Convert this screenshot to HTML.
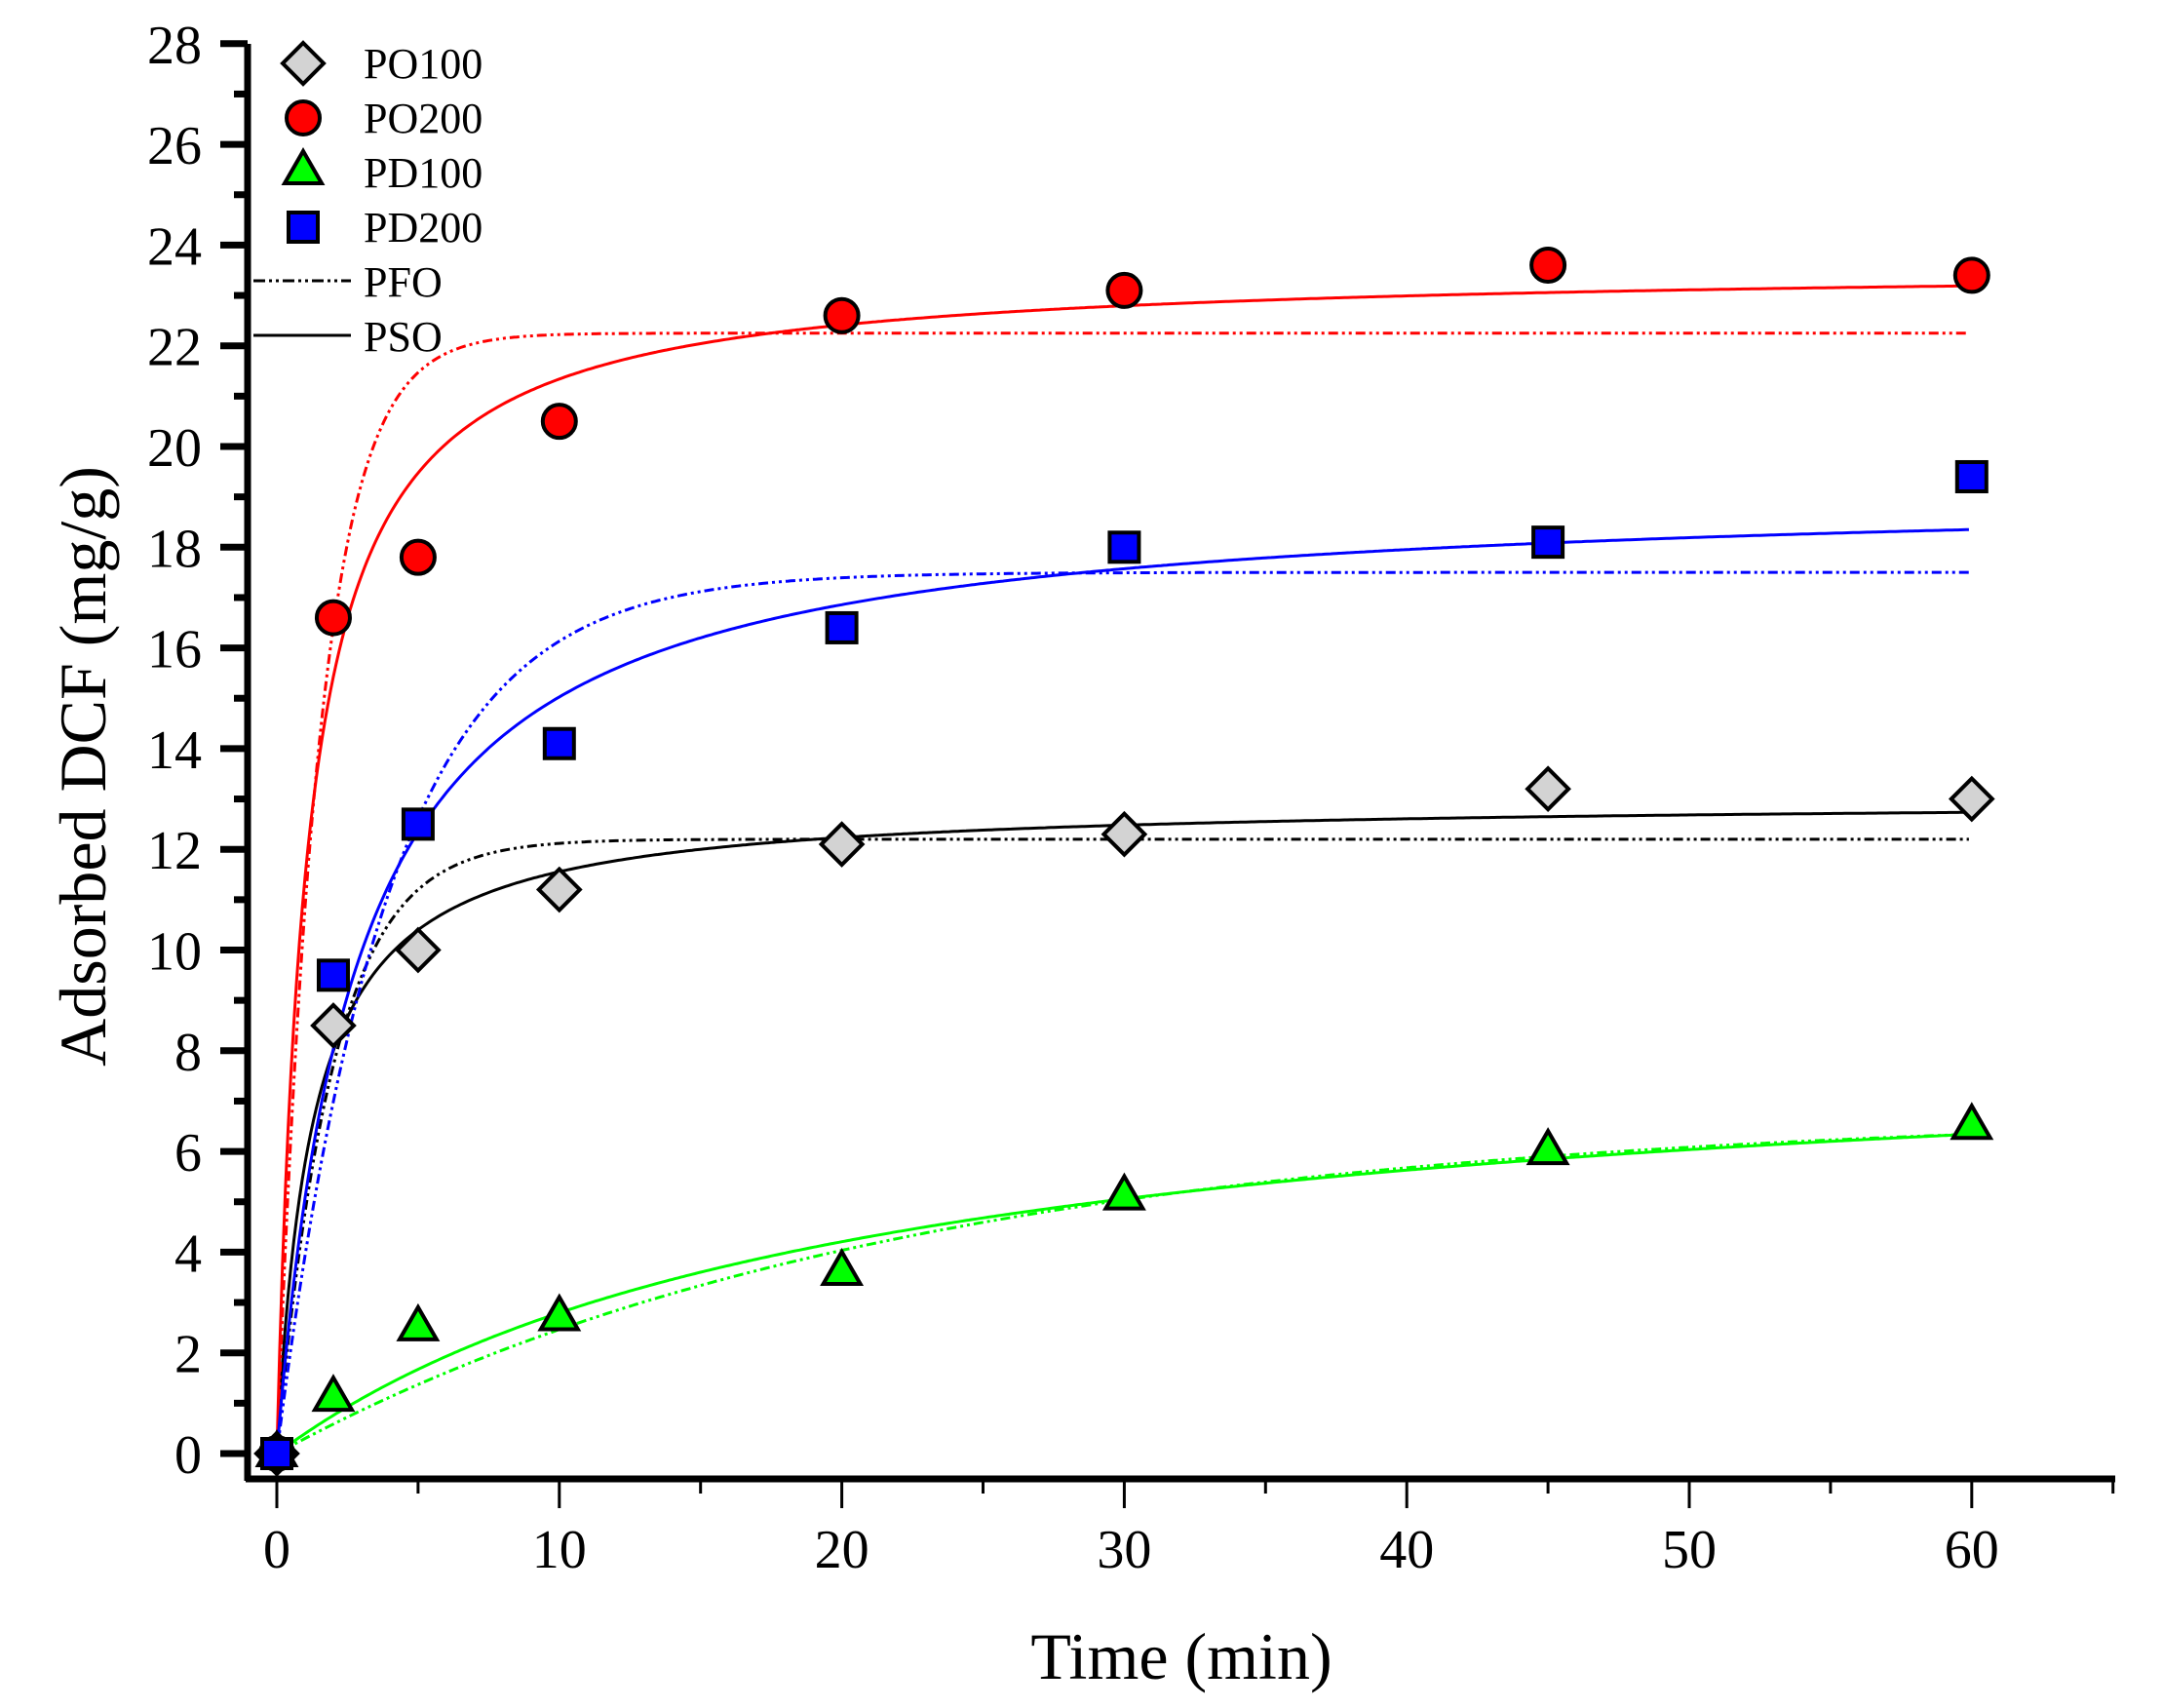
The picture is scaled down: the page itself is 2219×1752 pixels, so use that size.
<!DOCTYPE html>
<html><head><meta charset="utf-8"><style>
html,body{margin:0;padding:0;background:#fff}
svg{display:block}
text{font-family:"Liberation Serif",serif;fill:#000}
</style></head><body>
<svg id="s" width="2219" height="1752" viewBox="0 0 2219 1752" xmlns="http://www.w3.org/2000/svg">
<g id="axes" stroke="#000" fill="none"></g>
<g id="curves" fill="none" stroke-width="3"></g>
<g id="marks" stroke="#000" stroke-width="4"></g>
<g id="labels" font-size="56"></g>
<text x="1212" y="1722" font-size="68" text-anchor="middle">Time (min)</text>
<text transform="translate(108,786) rotate(-90)" font-size="68" text-anchor="middle">Adsorbed DCF (mg/g)</text>
<g font-size="44">
<polygon points="311,44 332,65 311,86 290,65" fill="#d3d3d3" stroke="#000" stroke-width="4"/>
<text x="373" y="80">PO100</text>
<circle cx="311" cy="121" r="17" fill="#f00" stroke="#000" stroke-width="4"/>
<text x="373" y="136">PO200</text>
<polygon points="311,155 330,188 292,188" fill="#0f0" stroke="#000" stroke-width="4"/>
<text x="373" y="192">PD100</text>
<rect x="296" y="218" width="30" height="30" fill="#00f" stroke="#000" stroke-width="4"/>
<text x="373" y="248">PD200</text>
<line x1="260" y1="288" x2="360" y2="288" stroke="#000" stroke-width="3" stroke-dasharray="12,4,3,4,3,4"/>
<text x="373" y="304">PFO</text>
<line x1="260" y1="344" x2="360" y2="344" stroke="#000" stroke-width="3"/>
<text x="373" y="360">PSO</text>
</g>
</svg>
<script>
var X=t=>284+t*28.98, Y=q=>1491-q*51.65, NS="http://www.w3.org/2000/svg";
function el(p,n,a){var e=document.createElementNS(NS,n);for(var k in a)e.setAttribute(k,a[k]);document.getElementById(p).appendChild(e);return e;}
el("axes","line",{x1:254,y1:45,x2:254,y2:1519,"stroke-width":7});
el("axes","line",{x1:252,y1:1517,x2:2170,y2:1517,"stroke-width":7});
for(var v=0;v<=28;v++){var y=Y(v);el("axes","line",{x1:v%2?240:226,y1:y,x2:254,y2:y,"stroke-width":7});
 if(v%2==0){var t=el("labels","text",{x:207,y:y+20,"text-anchor":"end"});t.textContent=v;}}
for(var v=0;v<=65;v+=5){var x=X(v);el("axes","line",{x1:x,y1:1517,x2:x,y2:v%10?1532:1547,"stroke-width":3});
 if(v%10==0){var t=el("labels","text",{x:x,y:1608,"text-anchor":"middle"});t.textContent=v;}}
function curve(f,c,d){var p="";for(var t=0;t<=60;t+=0.1){p+=(p?"L":"M")+X(t).toFixed(1)+","+Y(f(t)).toFixed(1);}
 var a={d:p,stroke:c};if(d)a["stroke-dasharray"]="10,4,3,4,3,4";el("curves","path",a);}
function pfo(qe,k){return t=>qe*(1-Math.exp(-k*t));}
function pso(qe,qk){return t=>qe*qk*t/(1+qk*t);}
curve(pfo(12.2,0.5),"#000",1);curve(pso(13.0,0.8),"#000");
curve(pfo(22.25,0.67),"#f00",1);curve(pso(23.6,0.944),"#f00");
curve(pfo(6.8,0.045),"#0f0",1);curve(pso(8.5,0.049),"#0f0");
curve(pfo(17.5,0.255),"#00f",1);curve(pso(19.2,0.36),"#00f");
var T=[0,2,5,10,20,30,45,60];
var d1=[0,8.5,10,11.2,12.1,12.3,13.2,13.0],d2=[0,16.6,17.8,20.5,22.6,23.1,23.6,23.4],
d3=[0,1.1,2.5,2.7,3.6,5.1,6.0,6.5],d4=[0,9.5,12.5,14.1,16.4,18.0,18.1,19.4];
T.forEach((t,i)=>{var x=X(t),y;
 y=Y(d1[i]);el("marks","polygon",{points:[x,y-21,x+21,y,x,y+21,x-21,y].join(" "),fill:"#d3d3d3"});
 y=Y(d2[i]);el("marks","circle",{cx:x,cy:y,r:17,fill:"#f00"});
 y=Y(d3[i]);el("marks","polygon",{points:[x,y-21,x+19,y+12,x-19,y+12].join(" "),fill:"#0f0"});
 y=Y(d4[i]);el("marks","rect",{x:x-15,y:y-15,width:30,height:30,fill:"#00f"});
});
</script>
</body></html>
